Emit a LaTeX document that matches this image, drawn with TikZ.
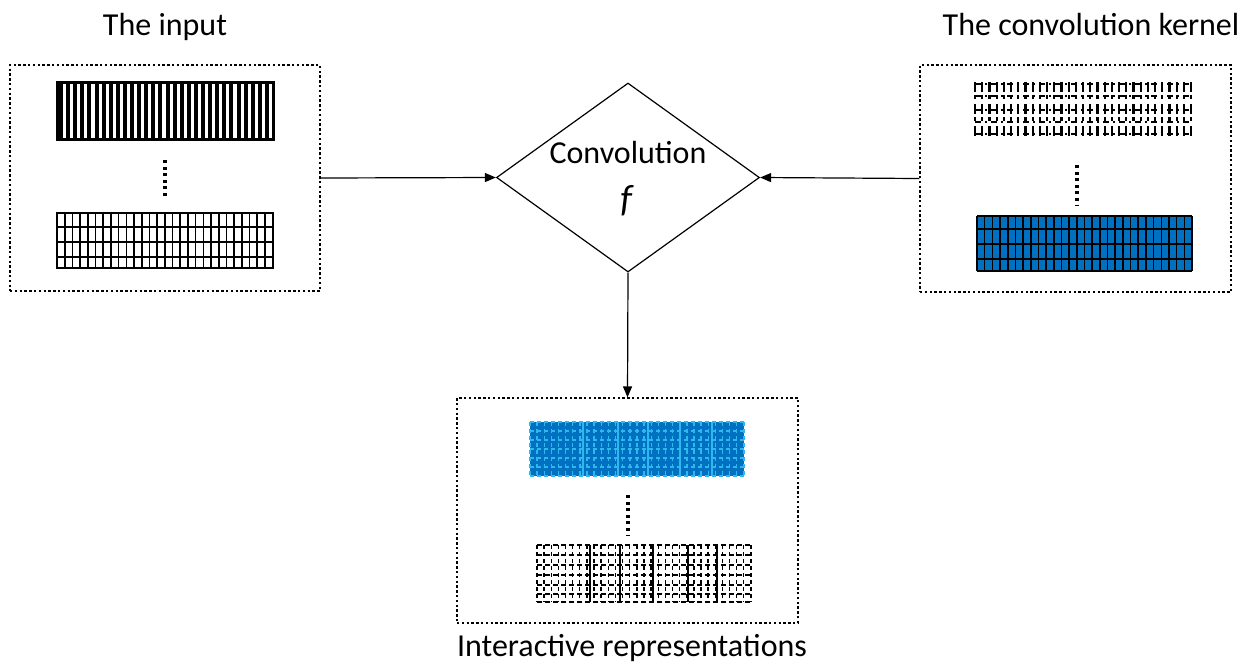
\documentclass[tikz,border=0pt]{standalone}
\usepackage{fontspec}
\setmainfont{Carlito}
\usetikzlibrary{shapes.geometric,arrows.meta}
\definecolor{kblue}{HTML}{0070C0}
\definecolor{lblue}{HTML}{2FB8F0}

\begin{document}
\begin{tikzpicture}[x=0.5pt,y=-0.5pt,
						dotbox/.style={draw=black, line width=0.6pt, dash pattern=on 1.2pt off 1.2pt, inner sep=0pt},
						convnode/.style={diamond, draw=black, line width=0.6pt, minimum width=131.5pt, minimum height=94.5pt, inner sep=0pt},
						title/.style={font=\fontsize{16}{19}\selectfont, anchor=base},
						arr/.style={-{Triangle[length=5.5pt,width=4.5pt]}, line width=0.6pt},
						vdots/.style={line width=1.6pt, dash pattern=on 1.5pt off 1.8pt},
						]
						\useasboundingbox (0,0) rectangle (1242,665);
						%Nodes
						\node[title]      (tinput) 	at	(165,35) 		{The input};
						\node[title]      (tkernel) 	at	(1091,35) 		{The convolution kernel};
						\node[title]      (toutput) 	at	(632,656) 		{Interactive representations};
						\node[dotbox, minimum width=155pt, minimum height=113pt]      (input) 	at 	(165,178)           {};
						\node[dotbox, minimum width=155.5pt, minimum height=113.5pt]      (kernel) 	at 	(1075.5,178.5)           {};
						\node[dotbox, minimum width=170.5pt, minimum height=112.5pt]      (output) 	at 	(627.5,510.5)           {};
						\node[convnode]      (conv) 	at 	(628,177.5)           {};
						\node[font=\fontsize{16}{19}\selectfont]      (tconv) 	at 	(628,153)           {Convolution};
						\node[font=\fontsize{19}{21}\selectfont]      (tf) 	at 	(627,201)           {\textit{f}};

						%Input
						\draw[line width=1.5pt] (57,82) rectangle (273,139);
						\foreach \i in {0,...,29} \fill (59+\i*7.1,82) rectangle +(4,57);
						\draw[vdots] (165,160) -- (165,198);
						\draw[line width=0.8pt] (57,213) rectangle (273,268);
						\foreach \i in {1,...,27} \draw[line width=0.8pt] (57+\i*7.7,213) -- +(0,55);
						\foreach \y in {227,242,257} \draw[line width=0.8pt] (57,\y) -- (273,\y);

						%Kernel
						\foreach \i in {0,...,30} \draw[line width=1.1pt, dash pattern=on 5pt off 1.5pt on 2pt off 2.5pt] (975+\i*7.2,82) -- +(0,55);
						\foreach \y in {84,96,110,122,134} \draw[line width=1.1pt, dash pattern=on 3pt off 2pt on 1pt off 2pt] (975,\y) -- (1192,\y);
						\draw[vdots] (1077,165) -- (1077,205);
						\fill[kblue] (977,216) rectangle (1192,271);
						\foreach \i in {0,...,28} \draw[line width=0.8pt] (977+\i*7.68,216) -- +(0,55);
						\foreach \y in {216,229,244,259,271} \draw[line width=0.8pt] (977,\y) -- (1192,\y);

						%Output
						\fill[kblue] (530,422) rectangle (744,476);
						\foreach \i in {0,...,30} \draw[lblue, line width=0.7pt, dash pattern=on 2pt off 1.5pt] (530+\i*7.13,422) -- +(0,54);
						\foreach \y in {422,431,440,449,458,467,476} \draw[lblue, line width=0.7pt, dash pattern=on 2pt off 1.5pt] (530,\y) -- (744,\y);
						\foreach \x in {583,618,648,680,712} \draw[lblue, line width=0.8pt] (\x,422) -- (\x,476);
						\draw[vdots] (628,495) -- (628,535);
						\foreach \i in {0,...,30} \draw[line width=0.7pt, dash pattern=on 2pt off 1.5pt] (537+\i*7.13,545) -- +(0,57);
						\foreach \y in {545,555,565,575,585,594,602} \draw[line width=0.7pt, dash pattern=on 2.5pt off 1.5pt] (537,\y) -- (751,\y);
						\foreach \x in {590,620,653,688,717} \draw[line width=0.9pt] (\x,545) -- (\x,602);

						%Lines
						\draw[arr] (input.east) -- (conv.west);
						\draw[arr] (kernel.west) -- (conv.east);
						\draw[arr] (conv.south) -- (output.north);
					\end{tikzpicture}
\end{document}
